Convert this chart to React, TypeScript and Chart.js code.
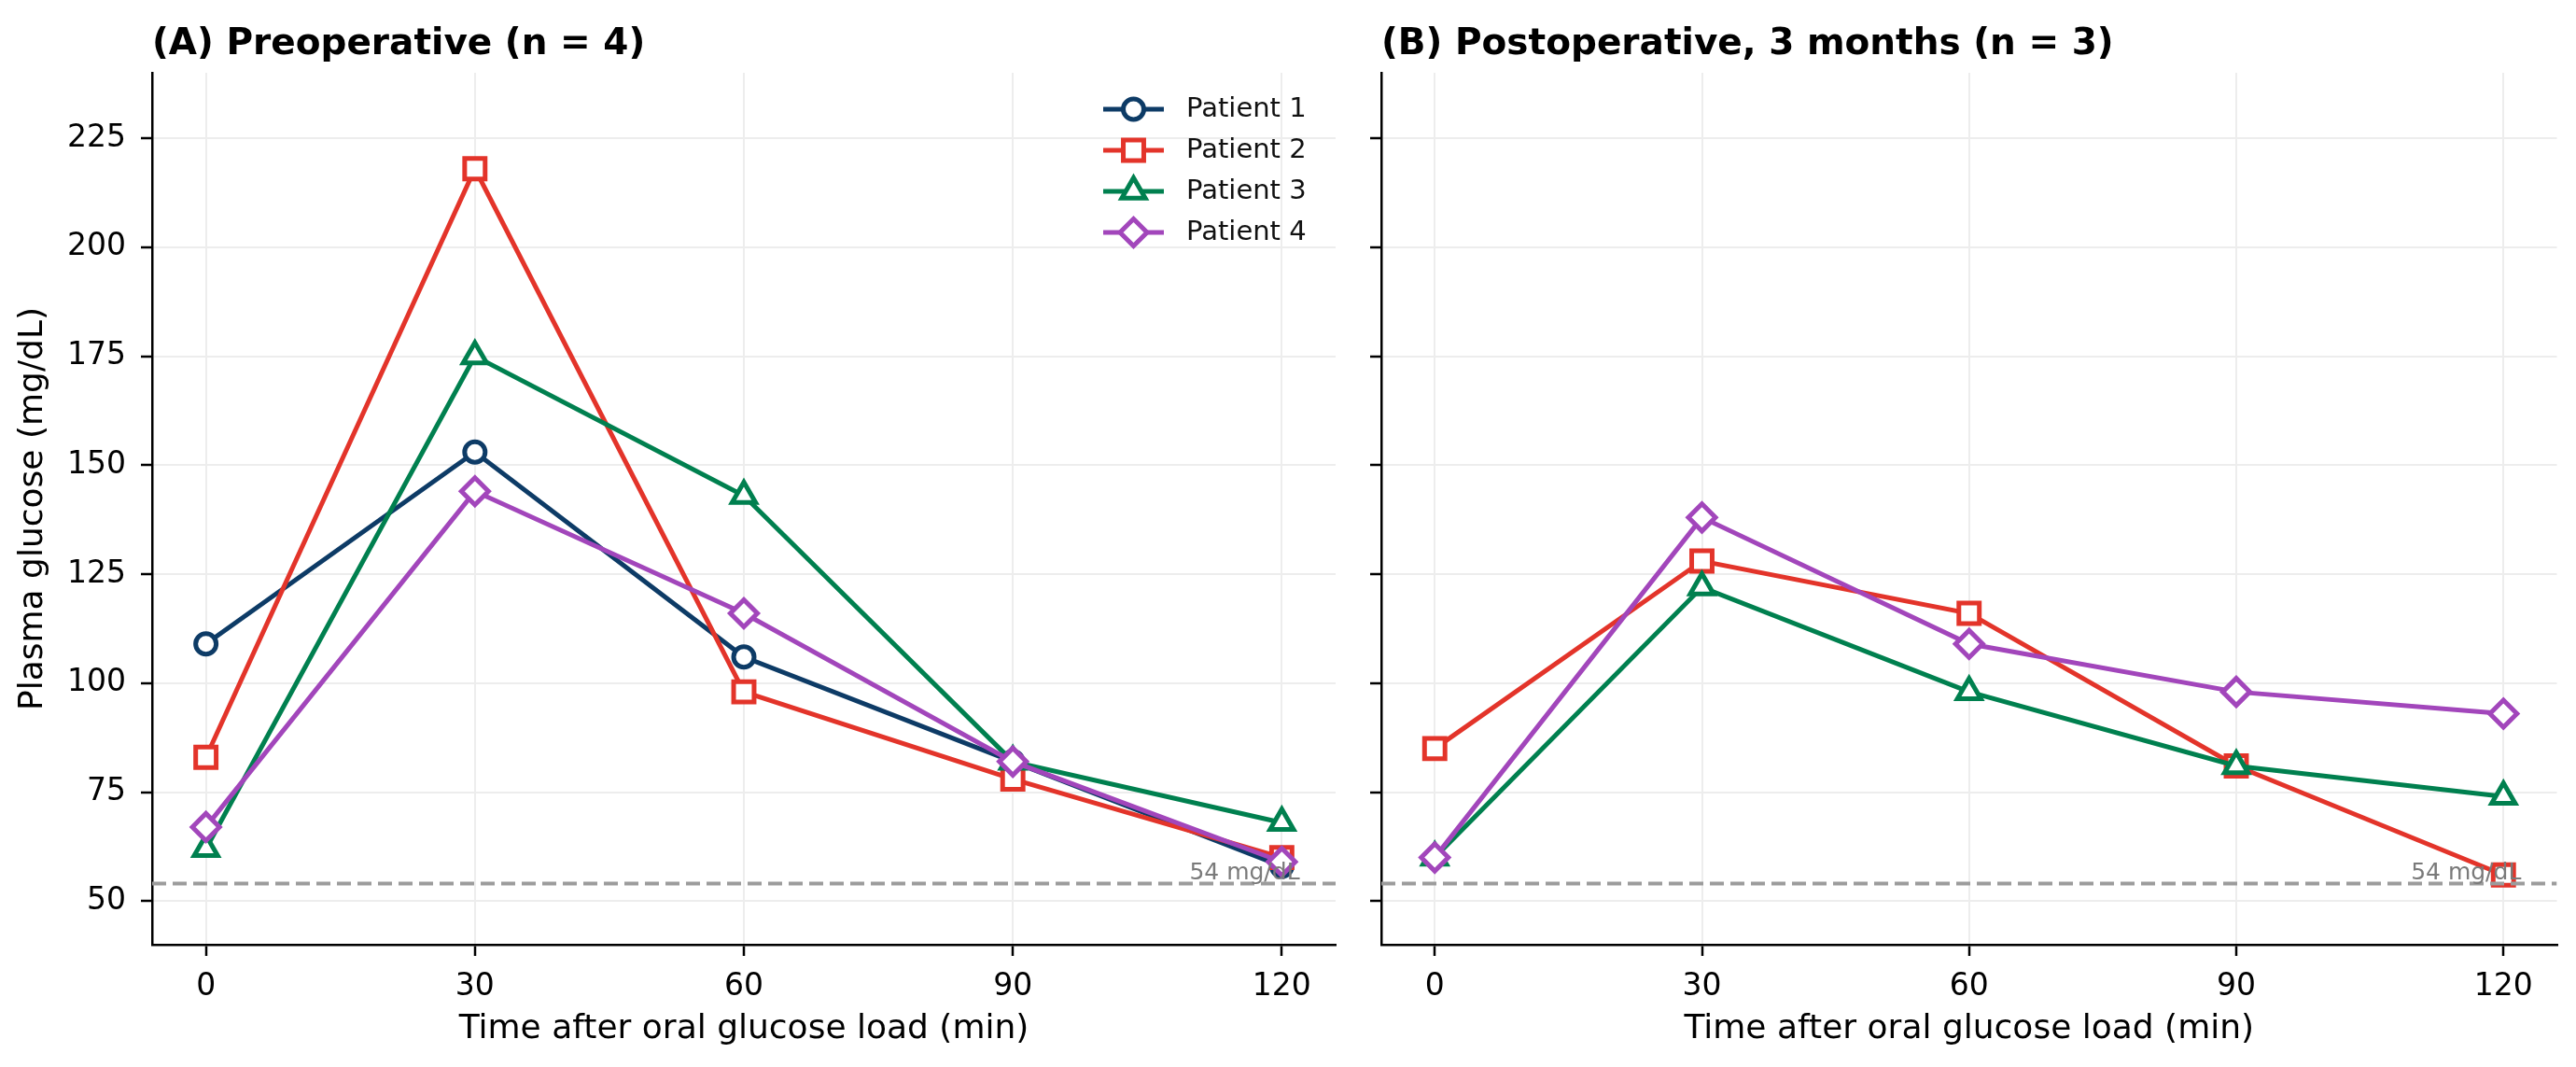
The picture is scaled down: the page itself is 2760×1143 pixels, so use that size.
import { useEffect, useRef } from 'react';
import { Chart, registerables } from 'chart.js';
import { drawPoint } from 'chart.js/helpers';

Chart.register(...registerables);

// OGTT sampling times (min) and axis ticks
const timePoints = [0, 30, 60, 90, 120];
const xTicks = [0, 30, 60, 90, 120];
const yTicks = [50, 75, 100, 125, 150, 175, 200, 225];
const xLimits = [-6, 126];
const yLimits = [40, 240];
const hypoThreshold = 54;
const hypoLabel = '54 mg/dL';

// Panel A: preoperative
const preopPatient1 = [109, 153, 106, 82, 58];
const preopPatient2 = [83, 218, 98, 78, 60];
const preopPatient3 = [62, 175, 143, 82, 68];
const preopPatient4 = [67, 144, 116, 82, 59];

// Panel B: postoperative, 3 months (patient 1 missing)
const postopPatient2 = [85, 128, 116, 81, 56];
const postopPatient3 = [60, 122, 98, 81, 74];
const postopPatient4 = [60, 138, 109, 98, 93];

const FONT = "'DejaVu Sans', sans-serif";

const patientStyles: Record<string, { color: string; pointStyle: string; radius: number }> = {
  'Patient 1': { color: '#0d3b66', pointStyle: 'circle', radius: 11 },
  'Patient 2': { color: '#e3342a', pointStyle: 'rect', radius: 15.5 },
  'Patient 3': { color: '#00804f', pointStyle: 'triangle', radius: 14.5 },
  'Patient 4': { color: '#a246bb', pointStyle: 'rectRot', radius: 14.5 },
};

const panelA = [
  { label: 'Patient 1', values: preopPatient1 },
  { label: 'Patient 2', values: preopPatient2 },
  { label: 'Patient 3', values: preopPatient3 },
  { label: 'Patient 4', values: preopPatient4 },
];

const panelB = [
  { label: 'Patient 2', values: postopPatient2 },
  { label: 'Patient 3', values: postopPatient3 },
  { label: 'Patient 4', values: postopPatient4 },
];

const LINE_WIDTH = 5;
const MARKER_EDGE = 5;

// draws panel title, threshold label and the legend
const decorPlugin = {
  id: 'decor',
  afterDatasetsDraw(chart: any, _args: any, opts: any) {
    const { ctx, chartArea, scales } = chart;
    ctx.save();

    // threshold label
    ctx.font = `25px ${FONT}`;
    ctx.fillStyle = '#7a7a7a';
    ctx.textAlign = 'right';
    ctx.textBaseline = 'alphabetic';
    ctx.fillText(hypoLabel, scales.x.getPixelForValue(122), scales.y.getPixelForValue(hypoThreshold + 1));

    // title
    ctx.font = `bold 39px ${FONT}`;
    ctx.fillStyle = '#000';
    ctx.textAlign = 'left';
    ctx.fillText(opts.title, chartArea.left, 58);

    if (opts.legend) {
      const items = chart.data.datasets.filter((d: any) => !d.isReference);
      const x0 = chartArea.right - 249;
      const x1 = chartArea.right - 184;
      const cx = (x0 + x1) / 2;
      items.forEach((d: any, i: number) => {
        const y = chartArea.top + 39 + i * 44;
        ctx.strokeStyle = d.borderColor;
        ctx.lineWidth = LINE_WIDTH;
        ctx.setLineDash([]);
        ctx.beginPath();
        ctx.moveTo(x0, y);
        ctx.lineTo(x1, y);
        ctx.stroke();
        ctx.fillStyle = '#fff';
        ctx.lineWidth = MARKER_EDGE;
        drawPoint(ctx, { pointStyle: d.pointStyle, radius: d.pointRadius, borderWidth: MARKER_EDGE, rotation: 0 }, cx, y);
        ctx.font = `29px ${FONT}`;
        ctx.fillStyle = '#111';
        ctx.textAlign = 'left';
        ctx.textBaseline = 'middle';
        ctx.fillText(d.label, chartArea.right - 160, y);
      });
    }
    ctx.restore();
  },
};

type PanelProps = {
  title: string;
  series: { label: string; values: number[] }[];
  width: number;
  yAxisWidth: number;
  rightPad: number;
  showYLabels: boolean;
  showLegend: boolean;
};

function GlucosePanel({ title, series, width, yAxisWidth, rightPad, showYLabels, showLegend }: PanelProps) {
  const canvasRef = useRef<HTMLCanvasElement>(null);

  useEffect(() => {
    const canvas = canvasRef.current;
    if (!canvas) return;

    const grid = {
      color: '#ededed',
      lineWidth: 2,
      drawTicks: true,
      tickLength: 12,
      tickColor: '#000',
      tickWidth: 2.5,
    };
    const border = { display: true, color: '#000', width: 2.5 };

    const datasets: any[] = series.map((s, i) => {
      const st = patientStyles[s.label];
      return {
        label: s.label,
        data: timePoints.map((t, j) => ({ x: t, y: s.values[j] })),
        borderColor: st.color,
        backgroundColor: '#fff',
        borderWidth: LINE_WIDTH,
        pointStyle: st.pointStyle,
        pointRadius: st.radius,
        pointBackgroundColor: '#fff',
        pointBorderColor: st.color,
        pointBorderWidth: MARKER_EDGE,
        tension: 0,
        order: series.length - i + 1,
      };
    });
    datasets.push({
      label: 'threshold',
      isReference: true,
      data: [
        { x: xLimits[0], y: hypoThreshold },
        { x: xLimits[1], y: hypoThreshold },
      ],
      borderColor: '#9c9c9c',
      borderWidth: 4,
      borderDash: [15, 7],
      pointRadius: 0,
      order: 0,
    });

    const chart = new Chart(canvas, {
      type: 'line',
      data: { datasets },
      plugins: [decorPlugin],
      options: {
        animation: false,
        responsive: false,
        devicePixelRatio: 1,
        events: [],
        layout: { padding: { top: 78, right: rightPad, bottom: 0, left: 0 } },
        plugins: {
          legend: { display: false },
          tooltip: { enabled: false },
          decor: { title, legend: showLegend },
        } as any,
        scales: {
          x: {
            type: 'linear',
            min: xLimits[0],
            max: xLimits[1],
            afterBuildTicks: (s: any) => {
              s.ticks = xTicks.map((v) => ({ value: v }));
            },
            afterFit: (s: any) => {
              s.height = 131;
            },
            ticks: { color: '#000', font: { family: FONT, size: 33 }, padding: 14, maxRotation: 0, autoSkip: false },
            title: {
              display: true,
              text: 'Time after oral glucose load (min)',
              color: '#000',
              font: { family: FONT, size: 36 },
              padding: { top: 0, bottom: 19 },
            },
            grid,
            border,
          },
          y: {
            type: 'linear',
            min: yLimits[0],
            max: yLimits[1],
            afterBuildTicks: (s: any) => {
              s.ticks = yTicks.map((v) => ({ value: v }));
            },
            afterFit: (s: any) => {
              s.width = yAxisWidth;
            },
            ticks: { display: showYLabels, color: '#000', font: { family: FONT, size: 33 }, padding: 16 },
            title: {
              display: showYLabels,
              text: 'Plasma glucose (mg/dL)',
              color: '#000',
              font: { family: FONT, size: 36 },
              padding: { top: 14, bottom: 0 },
            },
            grid,
            border,
          },
        },
      } as any,
    });

    return () => {
      chart.destroy();
    };
  }, []);

  return <canvas ref={canvasRef} width={width} height={1143} style={{ width, height: 1143, display: 'block' }} />;
}

export default function App() {
  return (
    <div style={{ position: 'absolute', left: 0, top: 0, width: 2760, height: 1143, background: '#fff', display: 'flex' }}>
      <GlucosePanel
        title="(A) Preoperative (n = 4)"
        series={panelA}
        width={1455}
        yAxisWidth={163}
        rightPad={24}
        showYLabels={true}
        showLegend={true}
      />
      <GlucosePanel
        title="(B) Postoperative, 3 months (n = 3)"
        series={panelB}
        width={1305}
        yAxisWidth={25}
        rightPad={12}
        showYLabels={false}
        showLegend={false}
      />
    </div>
  );
}
